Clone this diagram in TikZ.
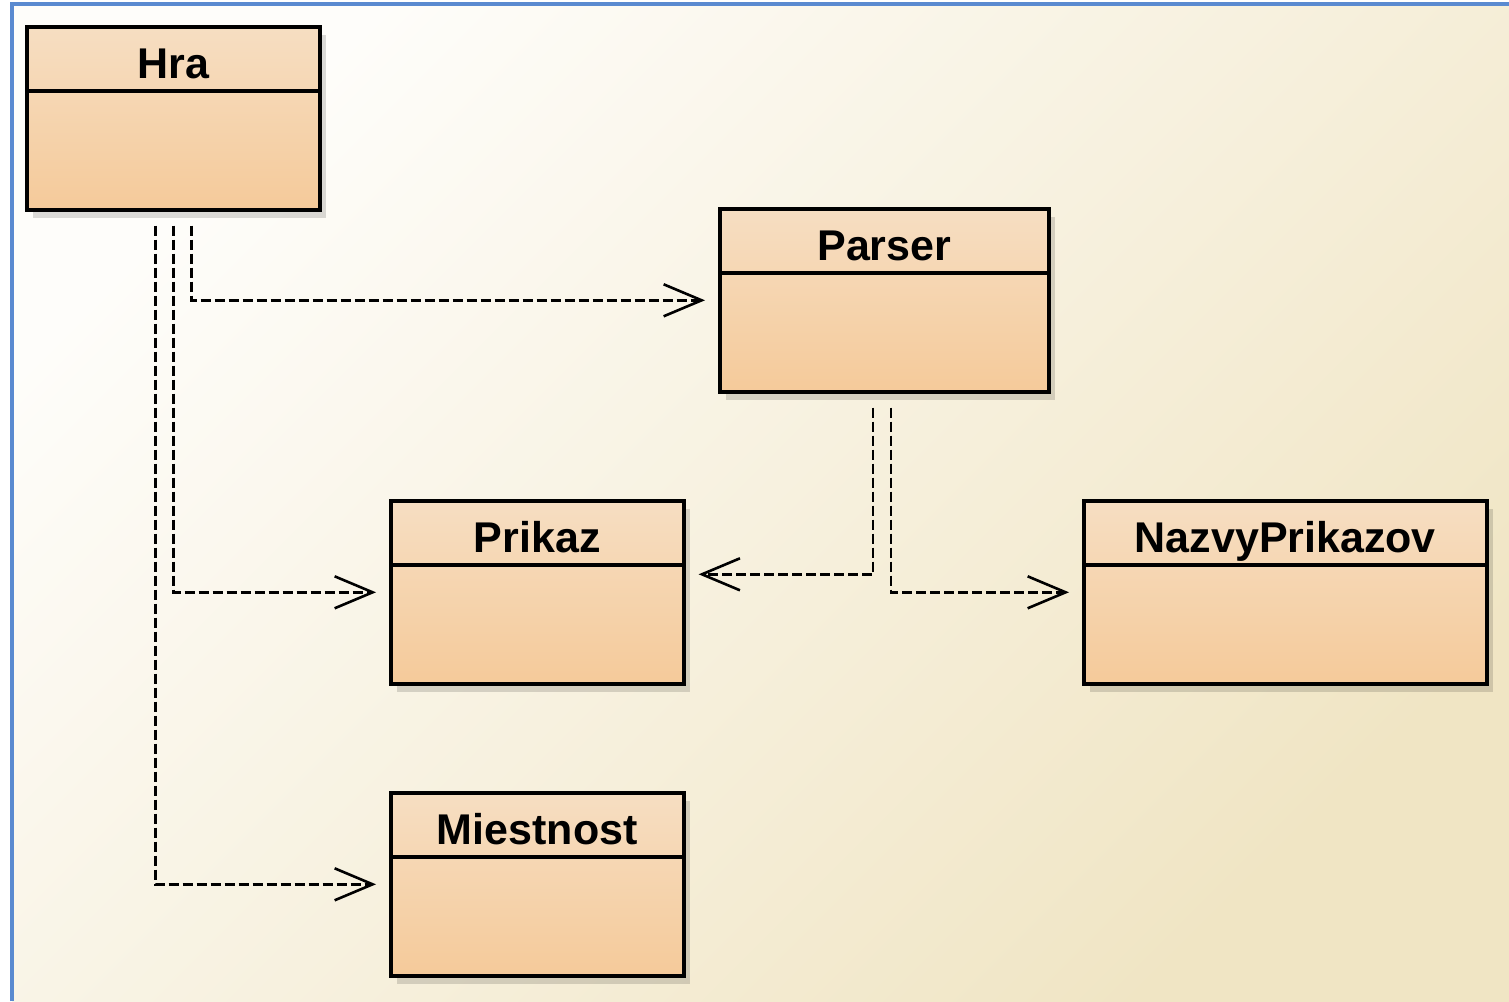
\documentclass[tikz,border=0pt]{standalone}
\usepackage{fontspec}
\setmainfont{Liberation Sans}
\usepackage{tikz}
\usetikzlibrary{positioning, calc, arrows.meta, shadows}
\definecolor{frameColor}{RGB}{90,138,208}
\definecolor{paperLight}{RGB}{254,253,250}
\definecolor{paperDark}{RGB}{240,229,196}
\definecolor{classTop}{RGB}{246,222,194}
\definecolor{classBottom}{RGB}{245,202,154}
\tikzstyle{diagram} = [x = .5pt, y = -.5pt]
\tikzstyle{classBox} = [draw=black, line width=1.8pt, rectangle, anchor=north west, minimum height=91.5pt,
  top color=classTop, bottom color=classBottom,
  drop shadow={shadow xshift=3pt, shadow yshift=-4pt, opacity=.14, fill=black}]
\tikzstyle{classLine} = [draw=black, line width=1.8pt]
\tikzstyle{classTitle} = [anchor=base, font=\bfseries\fontsize{21.5}{24}\selectfont, inner sep=0pt]
\tikzstyle{dependency} = [line width=1.3pt, dash pattern=on 5pt off 2pt, -{Straight Barb[length=19pt, width=16pt, line width=1.3pt]}]
\tikzstyle{frameLine} = [draw=frameColor, line width=1.8pt]
\newcommand{\umlClass}[5]{
  \node [classBox, minimum width=#4] (#1) at (#2,#3) {};
  \draw [classLine] ([yshift=-33pt]#1.north west) -- ([yshift=-33pt]#1.north east);
  \node [classTitle] (#1Title) at ([yshift=-26.5pt]#1.north) {#5};
}
\begin{document}
\begin{tikzpicture}[diagram]
      \useasboundingbox (0,0) rectangle (1509,1001);
      \fill [white] (0,0) rectangle (1509,1001);
      \shade [top color=paperLight, bottom color=paperDark, shading angle=45] (12,4) rectangle (1509,1001);
      \draw [frameLine] (12,1001) -- (12,4) -- (1509,4);

      \umlClass{hra}{25}{25}{146.5pt}{Hra}
      \umlClass{parser}{718}{207}{164.5pt}{Parser}
      \umlClass{prikaz}{389}{499}{146.5pt}{Prikaz}
      \umlClass{nazvy}{1082}{499}{201.5pt}{NazvyPrikazov}
      \umlClass{miestnost}{389}{791}{146.5pt}{Miestnost}

      \draw [dependency] ($(hra.south)+(18,14)$) |- ($(parser.west)+(-13,0)$);
      \draw [dependency] ($(hra.south)+(0,14)$) |- ($(prikaz.west)+(-13,0)$);
      \draw [dependency] ($(hra.south)+(-18,14)$) |- ($(miestnost.west)+(-13,0)$);
      \draw [dependency] ($(parser.south)+(-11.5,14)$) |- ($(prikaz.east)+(13,-18)$);
      \draw [dependency] ($(parser.south)+(6.5,14)$) |- ($(nazvy.west)+(-13,0)$);
    \end{tikzpicture}
\end{document}
